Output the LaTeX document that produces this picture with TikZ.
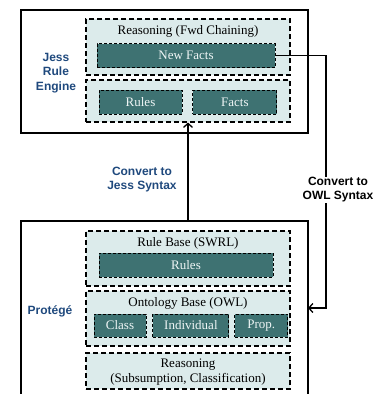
\documentclass[tikz,border=0pt]{standalone}
\usepackage{fontspec}
\setmainfont{Liberation Serif}
\setsansfont{Liberation Sans}
\usetikzlibrary{positioning}
\usetikzlibrary{arrows.meta}

\definecolor{layerfill}{HTML}{DCEBEB}
\definecolor{itemfill}{HTML}{3E7272}
\definecolor{labelblue}{HTML}{1F497D}
\definecolor{itemtext}{HTML}{EEF5F5}

\tikzset{
  engine/.style={draw, line width=1.3pt, inner sep=0pt},
  layer/.style={draw, dash pattern=on 5pt off 3pt, line width=1.1pt, fill=layerfill, minimum width=204pt, inner sep=0pt},
  item/.style={draw, dash pattern=on 3pt off 2pt, line width=0.9pt, fill=itemfill, text=itemtext, minimum height=24pt, inner sep=0pt, font=\fontsize{13}{15}\selectfont},
  layertext/.style={font=\fontsize{13}{15}\selectfont, align=center},
  sidelabel/.style={font=\sffamily\bfseries\fontsize{12}{14.5}\selectfont, text=labelblue, align=center},
  convert/.style={font=\sffamily\bfseries\fontsize{12}{14}\selectfont, align=center, inner sep=1pt},
  flow/.style={line width=1.4pt, -{Straight Barb[length=4pt,width=9pt,line width=1.3pt]}}
}

\begin{document}
\begin{tikzpicture}[x=1pt, y=-1pt]
        \clip (0,0) rectangle (375,394);

        % Jess rule engine
        \node[engine, minimum width=287pt, minimum height=123pt] (jess) at (164.5,71.5) {};
        \node[sidelabel] (jesslbl) at (56,73) {Jess\\Rule\\Engine};

        % Forward chaining
        \node[layer, minimum height=56pt] (fwd) at (188,47) {};
        \node[layertext] (fwdlbl) at (188,31) {Reasoning (Fwd Chaining)};
        \node[item, minimum width=178pt] (newfacts) at (186,55.5) {New Facts};

        % Rules and facts
        \node[layer, minimum height=42pt] (kb) at (188,101) {};
        \node[item, minimum width=83pt] (jrules) at (140.5,102) {Rules};
        \node[item, minimum width=84pt, right = 10pt of jrules] (jfacts) {Facts};

        % Protege
        \node[engine, minimum width=287pt, minimum height=180pt] (protege) at (164.5,311) {};
        \node[sidelabel] (protlbl) at (50,311) {Protégé};

        % Rule base
        \node[layer, minimum height=55pt] (swrl) at (188,258.5) {};
        \node[layertext] (swrllbl) at (188,243) {Rule Base (SWRL)};
        \node[item, minimum width=174pt] (prules) at (186,265) {Rules};

        % Ontology base
        \node[layer, minimum height=55pt] (owl) at (188,318.5) {};
        \node[layertext] (owllbl) at (188,303) {Ontology Base (OWL)};
        \node[item, minimum width=52pt, minimum height=23pt] (cls) at (120,325.5) {Class};
        \node[item, minimum width=76pt, minimum height=23pt, right = 6pt of cls] (indiv) {Individual};
        \node[item, minimum width=53pt, minimum height=23pt, right = 5pt of indiv] (prop) {Prop.};

        % Classification
        \node[layer, minimum height=36pt] (dl) at (188,371) {};
        \node[layertext] (dllbl) at (188,372.5) {Reasoning\\(Subsumption, Classification)};

        % Conversions
        \draw[flow] (protege.north -| kb.south) -- (kb.south);
        \node[convert, text=labelblue] (tojess) at (142,180) {Convert to\\Jess Syntax};
        \coordinate (turn) at (326,308);
        \coordinate (owlin) at (308,308);
        \draw[flow] (newfacts.east) -| (turn) -- (owlin);
        \node[convert, fill=white] (toowl) at (338,190) {Convert to\\OWL Syntax};
\end{tikzpicture}
\end{document}
